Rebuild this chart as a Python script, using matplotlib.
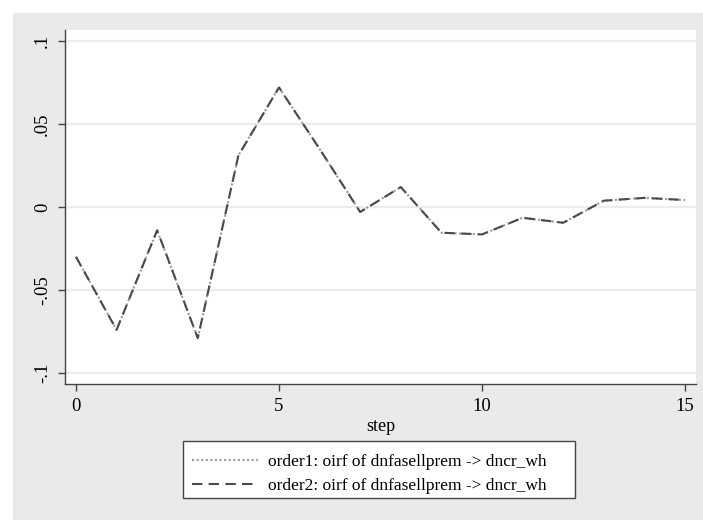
import numpy as np
from matplotlib import pyplot as plt
from matplotlib.patches import Rectangle

step = np.arange(16)
order1 = [-0.030, -0.074, -0.014, -0.079, 0.031, 0.072, 0.035, -0.003,
          0.012, -0.0155, -0.0165, -0.0065, -0.0095, 0.0038, 0.0055, 0.0042]
order2 = list(order1)  # both orderings give the same response
labels = ['order1: oirf of dnfasellprem -> dncr_wh',
          'order2: oirf of dnfasellprem -> dncr_wh']

plt.rcParams['font.family'] = 'Liberation Serif'
fig = plt.figure(figsize=(7.03, 5.20), dpi=100, facecolor='white')
# gray graph region (the top/left white strip is part of the screenshot)
fig.patches.append(Rectangle((13 / 703, 0), 1, 507 / 520, transform=fig.transFigure,
                             facecolor='#eaeaea', edgecolor='none', zorder=-1))
# legend box, drawn by hand so it keeps Stata's wide right margin
fig.patches.append(Rectangle((183 / 703, 22 / 520), 392 / 703, 57 / 520,
                             transform=fig.transFigure, facecolor='white',
                             edgecolor='#444444', linewidth=1.0, zorder=0))

ax = fig.add_axes([65 / 703, 136 / 520, 631 / 703, 354 / 520])
ax.set_facecolor('white')

ax.plot(step, order1, color='#9a9a9a', linestyle=(0, (1, 1.2)), linewidth=1.5, label=labels[0])
ax.plot(step, order2, color='#4a4a4a', linestyle=(0, (5, 3)), linewidth=1.5, label=labels[1])

ax.set_xlim(-0.27, 15.27)
ax.set_ylim(-0.1066, 0.1066)
ax.set_xticks([0, 5, 10, 15])
ax.set_yticks([-0.1, -0.05, 0, 0.05, 0.1])
ax.set_yticklabels(['-.1', '-.05', '0', '.05', '.1'], rotation=90, va='center')
ax.yaxis.grid(True, color='#ececec', linewidth=1.6)
ax.set_axisbelow(True)

for s in ['top', 'right']:
    ax.spines[s].set_visible(False)
for s in ['left', 'bottom']:
    ax.spines[s].set_color('#444444')
    ax.spines[s].set_linewidth(1.0)
ax.tick_params(axis='both', direction='out', length=5, width=1, color='#444444',
               labelsize=13.5, pad=5)
ax.set_xlabel('step', fontsize=13, labelpad=2)

leg = fig.legend(loc='upper left', bbox_to_anchor=(192 / 703, 66 / 520),
                 ncol=1, fontsize=12.5, frameon=False, borderpad=0, borderaxespad=0,
                 handlelength=3.8, handletextpad=0.57, labelspacing=0.42)

plt.savefig('out.png', dpi=100)
